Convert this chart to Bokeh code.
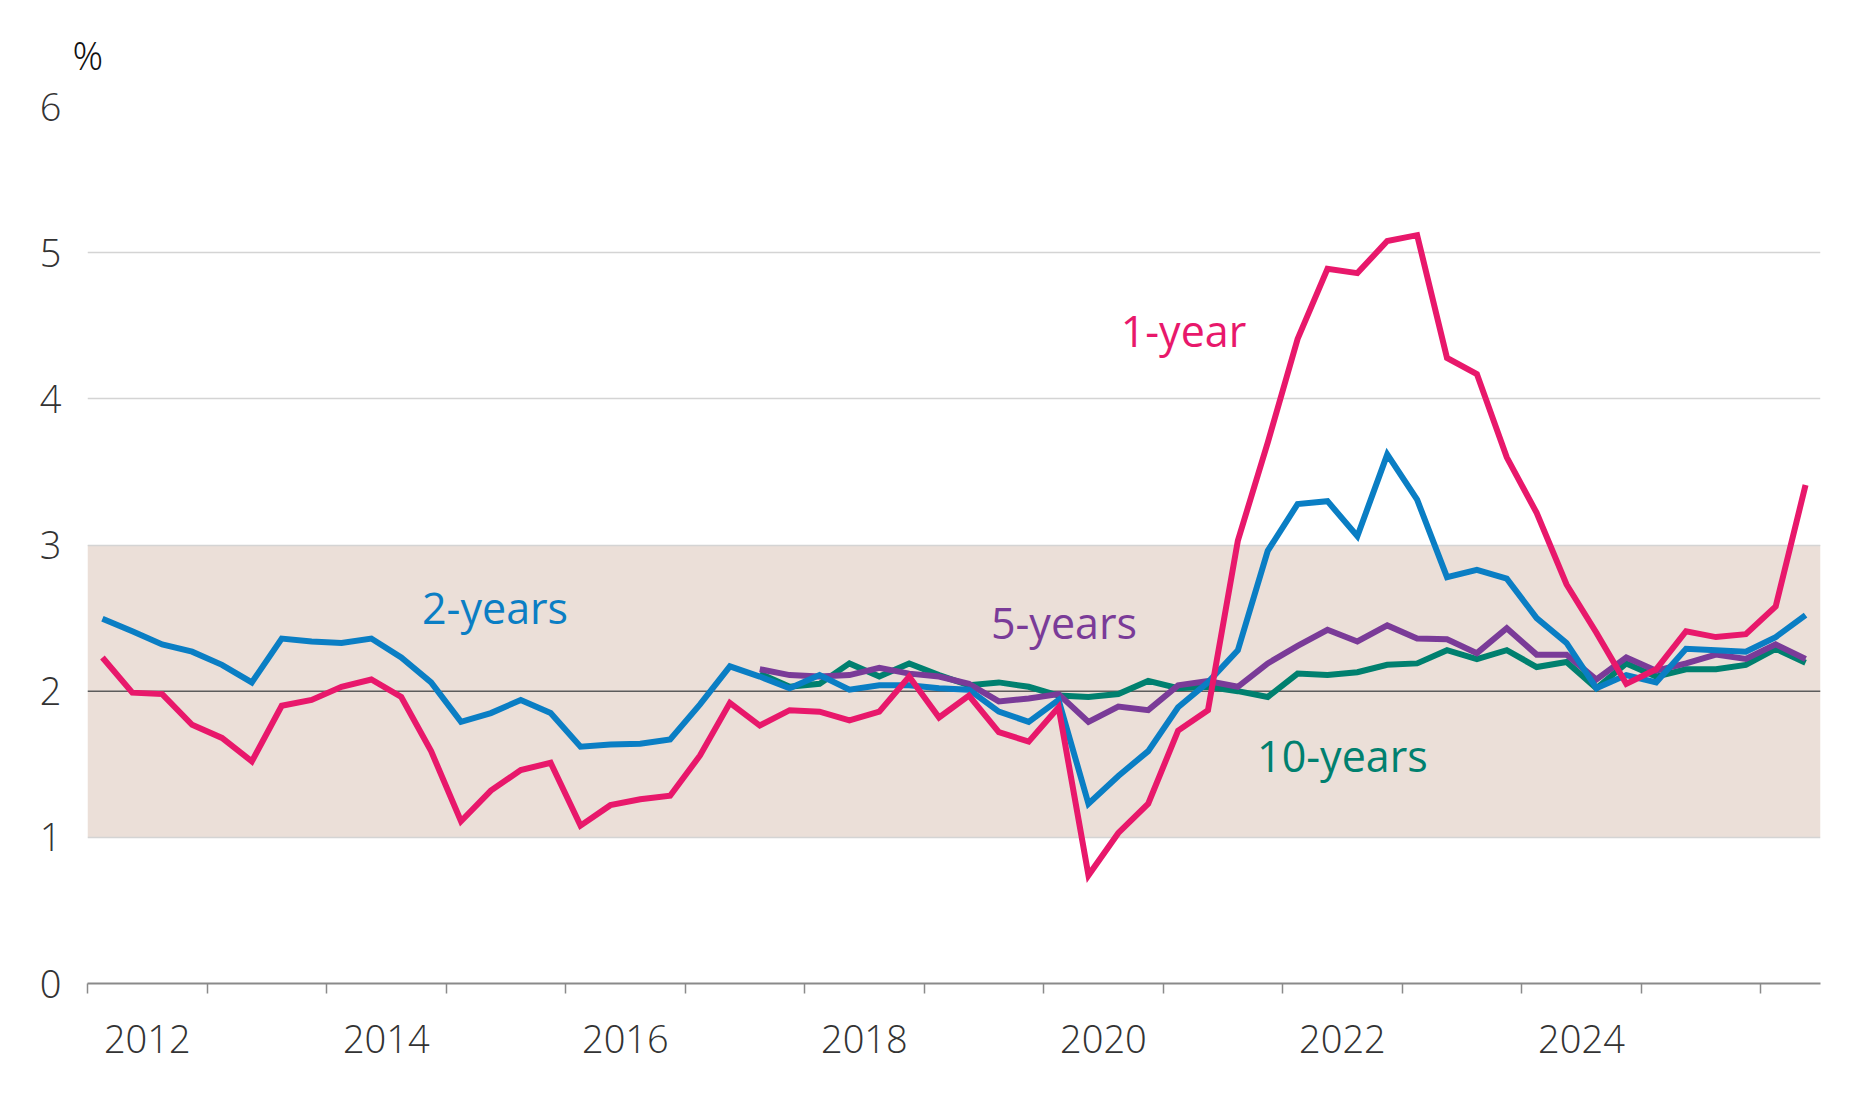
from bokeh.plotting import figure
from bokeh.models import Range1d, FixedTicker, BoxAnnotation, Span, Label, Title
from bokeh.embed import file_html
from bokeh.resources import INLINE

# Quarterly observations, 2012Q1 to 2026Q2
start_year = 2012
n_quarters = 58
quarters = [f"{start_year + i // 4}Q{i % 4 + 1}" for i in range(n_quarters)]

one_year = [
    2.23, 1.99, 1.98, 1.77, 1.68, 1.52, 1.90, 1.94, 2.03, 2.08,
    1.96, 1.59, 1.11, 1.32, 1.46, 1.51, 1.08, 1.22, 1.26, 1.285,
    1.56, 1.92, 1.765, 1.87, 1.86, 1.80, 1.86, 2.10, 1.82, 1.97,
    1.72, 1.655, 1.89, 0.74, 1.03, 1.23, 1.73, 1.87, 3.03, 3.70,
    4.41, 4.89, 4.86, 5.08, 5.12, 4.28, 4.17, 3.60, 3.22, 2.73,
    2.40, 2.05, 2.15, 2.41, 2.37, 2.39, 2.58, 3.41,
]
two_years = [
    2.495, 2.41, 2.32, 2.27, 2.18, 2.06, 2.36, 2.34, 2.33, 2.36,
    2.23, 2.06, 1.79, 1.85, 1.94, 1.85, 1.62, 1.635, 1.64, 1.67,
    1.91, 2.17, 2.10, 2.02, 2.11, 2.01, 2.04, 2.04, 2.02, 2.01,
    1.86, 1.79, 1.94, 1.23, 1.42, 1.59, 1.89, 2.06, 2.28, 2.96,
    3.28, 3.30, 3.06, 3.62, 3.31, 2.78, 2.83, 2.77, 2.50, 2.33,
    2.02, 2.11, 2.06, 2.29, 2.28, 2.27, 2.37, 2.52,
]
# 5- and 10-year series begin in 2017Q3
long_start = 22
five_years = [
    2.15, 2.11, 2.10, 2.11, 2.16, 2.12, 2.10, 2.05,
    1.93, 1.95, 1.98, 1.79, 1.895, 1.87, 2.04, 2.07, 2.03, 2.19,
    2.31, 2.42, 2.34, 2.45, 2.36, 2.355, 2.26, 2.43, 2.25, 2.25,
    2.08, 2.23, 2.14, 2.19, 2.25, 2.22, 2.32, 2.22,
]
ten_years = [
    2.12, 2.03, 2.05, 2.19, 2.10, 2.19, 2.11, 2.04,
    2.06, 2.03, 1.97, 1.96, 1.98, 2.07, 2.02, 2.03, 2.00, 1.96,
    2.12, 2.11, 2.13, 2.18, 2.19, 2.28, 2.22, 2.28, 2.165, 2.20,
    2.02, 2.19, 2.10, 2.15, 2.15, 2.18, 2.29, 2.195,
]

year_labels = ["2012", "2014", "2016", "2018", "2020", "2022", "2024"]
y_ticks = [0, 1, 2, 3, 4, 5, 6]


def quarter_to_x(q):
    year, qn = int(q[:4]), int(q[-1])
    return year + (qn - 0.5) / 4.0


xs = [quarter_to_x(q) for q in quarters]
xs_long = xs[long_start:]

FONT_LIGHT = "'Open Sans Light', 'Lato Light', 'Open Sans'"
FONT = "Open Sans"
PINK = "#E8186B"
BLUE = "#0A7EC4"
PURPLE = "#7A3B98"
TEAL = "#00806F"
LW = 6

p = figure(
    width=1875, height=1096,
    output_backend="svg", toolbar_location=None,
    x_range=Range1d(2012, 2026.5), y_range=Range1d(0, 6),
    min_border_left=87, min_border_right=55,
    min_border_top=105, min_border_bottom=113,
)
p.outline_line_color = None
p.background_fill_color = "white"
p.border_fill_color = "white"

# Unit label above the value axis
p.add_layout(Title(text="%", align="left", offset=-15, standoff=52,
                   text_font=FONT_LIGHT, text_font_size="38px", text_font_style="normal",
                   text_color="#111111"), "above")

# Target range band and the 2 % reference line
p.add_layout(BoxAnnotation(bottom=1, top=3, fill_color="#EBDFD8", fill_alpha=1.0,
                           line_color=None, level="image"))
p.add_layout(Span(location=2, dimension="width", line_color="#5c5c5c",
                  line_width=1.5, level="underlay"))

# Grid
p.xgrid.grid_line_color = None
p.ygrid.ticker = FixedTicker(ticks=[t for t in y_ticks if t not in (0, 2)])
p.ygrid.grid_line_color = "#d4d4d4"
p.ygrid.grid_line_width = 1.5

# Y axis: labels only
p.yaxis.ticker = FixedTicker(ticks=y_ticks)
p.yaxis.axis_line_color = None
p.yaxis.major_tick_line_color = None
p.yaxis.minor_tick_line_color = None
p.yaxis.major_label_standoff = 20
p.yaxis.major_label_text_font = FONT_LIGHT
p.yaxis.major_label_text_font_size = "38px"
p.yaxis.major_label_text_color = "#333333"

# X axis: ticks at year boundaries, labels centred within every other year
label_pos = [int(y) + 0.5 for y in year_labels]
p.xaxis.ticker = FixedTicker(ticks=label_pos, minor_ticks=list(range(2012, 2027)))
p.xaxis.major_label_overrides = {pos: lab for pos, lab in zip(label_pos, year_labels)}
p.xaxis.major_tick_line_color = None
p.xaxis.major_tick_out = 0
p.xaxis.major_tick_in = 0
p.xaxis.minor_tick_line_color = "#8a8a8a"
p.xaxis.minor_tick_line_width = 1.5
p.xaxis.minor_tick_out = 10
p.xaxis.minor_tick_in = 0
p.xaxis.axis_line_color = "#8a8a8a"
p.xaxis.axis_line_width = 2
p.xaxis.major_label_standoff = 31
p.xaxis.major_label_text_font = FONT_LIGHT
p.xaxis.major_label_text_font_size = "38px"
p.xaxis.major_label_text_color = "#333333"

# Series
p.line(xs_long, ten_years, line_color=TEAL, line_width=LW, line_join="miter")
p.line(xs_long, five_years, line_color=PURPLE, line_width=LW, line_join="miter")
p.line(xs, two_years, line_color=BLUE, line_width=LW, line_join="miter")
p.line(xs, one_year, line_color=PINK, line_width=LW, line_join="miter")

# Series labels
for txt, lx, ly, col in [
    ("1-year", 2021.17, 4.47, PINK),
    ("2-years", 2015.41, 2.57, BLUE),
    ("5-years", 2020.17, 2.47, PURPLE),
    ("10-years", 2022.50, 1.56, TEAL),
]:
    p.add_layout(Label(x=lx, y=ly, text=txt, text_font=FONT, text_font_size="43px",
                       text_color=col, text_align="center", text_baseline="middle"))

open("out.html", "w").write(file_html(p, INLINE))
